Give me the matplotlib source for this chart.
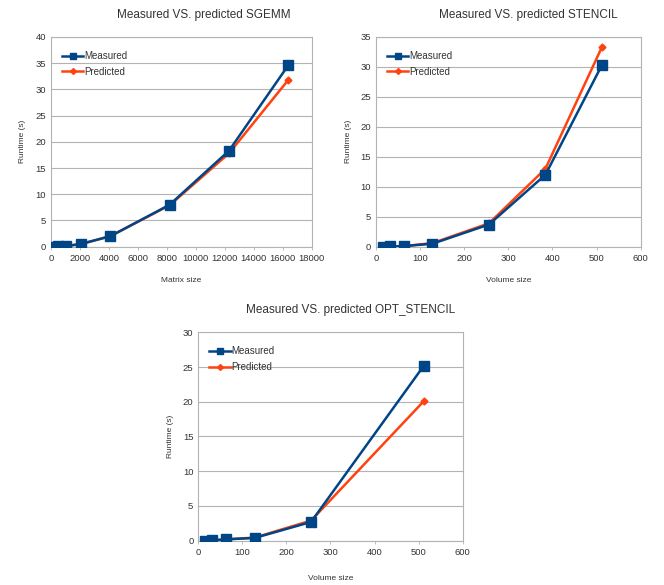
import matplotlib
matplotlib.use("Agg")
import matplotlib.pyplot as plt
from matplotlib.lines import Line2D

plt.rcParams['font.family'] = ['Liberation Sans', 'DejaVu Sans']

# SGEMM
sgemm_x = [256, 512, 1024, 2048, 4096, 8192, 12288, 16384]
sgemm_measured = [0.02, 0.05, 0.12, 0.5, 2.0, 8.0, 18.3, 34.6]
sgemm_predicted = [0.02, 0.05, 0.12, 0.5, 2.0, 7.9, 17.8, 31.8]

# STENCIL
stencil_x = [16, 32, 64, 128, 256, 384, 512]
stencil_measured = [0.02, 0.05, 0.1, 0.5, 3.7, 12.0, 30.3]
stencil_predicted = [0.02, 0.05, 0.1, 0.6, 3.9, 13.0, 33.3]

# OPT_STENCIL
opt_x = [16, 32, 64, 128, 256, 512]
opt_measured = [0.03, 0.05, 0.2, 0.4, 2.7, 25.2]
opt_predicted = [0.03, 0.05, 0.2, 0.45, 2.9, 20.1]

blue = '#004586'
orange = '#ff420e'
grid_c = '#b3b3b3'
text_c = '#333333'

fig = plt.figure(figsize=(6.64, 5.85), dpi=100)

def make_ax(rect, x, meas, pred, title, xlabel, xlim, xticks, ylim, yticks, title_x, xlabelpad):
    ax = fig.add_axes(rect)
    ax.plot(x, pred, color=orange, lw=1.8, marker='D', ms=3.5, zorder=3)
    ax.plot(x, meas, color=blue, lw=1.8, marker='s', ms=6.5, zorder=4)
    ax.set_xlim(*xlim)
    ax.set_ylim(*ylim)
    ax.set_xticks(xticks)
    ax.set_yticks(yticks)
    ax.yaxis.grid(True, color=grid_c, lw=0.8)
    ax.set_axisbelow(True)
    for s in ax.spines.values():
        s.set_color(grid_c)
        s.set_linewidth(0.8)
    ax.tick_params(axis='both', labelsize=6.8, colors=text_c, length=2, width=0.6, color=grid_c)
    ax.tick_params(axis='y', length=0)
    ax.set_title(title, fontsize=8.5, color=text_c, pad=14, x=title_x)
    ax.set_xlabel(xlabel, fontsize=6, color=text_c, labelpad=xlabelpad)
    ax.set_ylabel('Runtime (s)', fontsize=6, color=text_c, labelpad=6.5)
    handles = [Line2D([], [], color=blue, lw=1.8, marker='s', ms=5),
               Line2D([], [], color=orange, lw=1.8, marker='D', ms=3)]
    ax.legend(handles, ['Measured', 'Predicted'], loc='upper left', frameon=False,
              fontsize=7, handlelength=2.2, handletextpad=0.1, labelspacing=0.6,
              bbox_to_anchor=(0.008, 0.975), labelcolor=text_c)
    return ax

make_ax([0.0768, 0.5783, 0.3926, 0.3585], sgemm_x, sgemm_measured, sgemm_predicted,
        'Measured VS. predicted SGEMM', 'Matrix size', (0, 18000),
        list(range(0, 18001, 2000)), (0, 40), list(range(0, 41, 5)), 0.585, 10)
make_ax([0.5663, 0.5783, 0.3986, 0.3585], stencil_x, stencil_measured, stencil_predicted,
        'Measured VS. predicted STENCIL', 'Volume size', (0, 600),
        list(range(0, 601, 100)), (0, 35), list(range(0, 36, 5)), 0.577, 10)
make_ax([0.2986, 0.0757, 0.3982, 0.3563], opt_x, opt_measured, opt_predicted,
        'Measured VS. predicted OPT_STENCIL', 'Volume size', (0, 600),
        list(range(0, 601, 100)), (0, 30), list(range(0, 31, 5)), 0.577, 13)

fig.savefig('out.png', dpi=100)
